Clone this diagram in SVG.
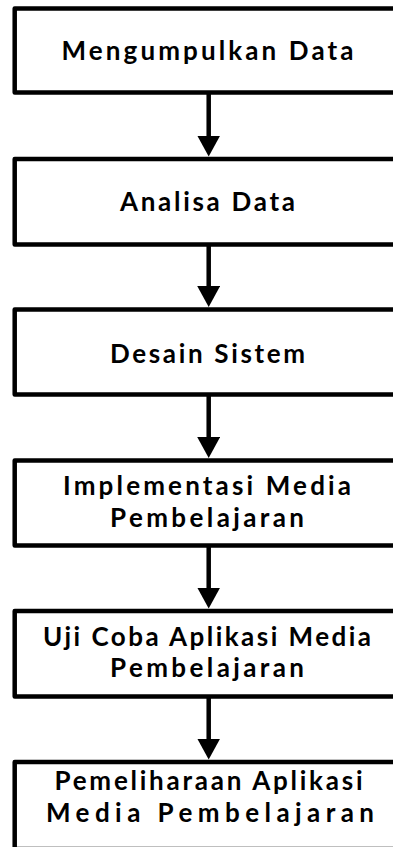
<svg xmlns="http://www.w3.org/2000/svg" width="393" height="847" viewBox="0 0 393 847">
  <style>
    .box { fill: #ffffff; stroke: #000000; stroke-width: 4.5; stroke-linejoin: round; }
    .lbl { font-family: Lato, "Open Sans", "Liberation Sans", sans-serif; font-weight: 700; font-size: 26px; fill: #000000; text-anchor: middle; }
    .conn { stroke: #000000; stroke-width: 4.5; fill: none; marker-end: url(#arrow); }
  </style>
  <defs>
    <marker id="arrow" markerUnits="userSpaceOnUse" markerWidth="21" markerHeight="23" viewBox="0 0 21 23" refX="2" refY="11.5" orient="auto">
      <path d="M0,0 L21,11.5 L0,23 Z" fill="#000000"/>
    </marker>
  </defs>
  <rect width="393" height="847" fill="#ffffff"/>
  <g id="connectors">
    <line class="conn" x1="208.7" y1="92.5" x2="208.7" y2="137.5"/>
    <line class="conn" x1="208.7" y1="244.5" x2="208.7" y2="288"/>
    <line class="conn" x1="208.7" y1="394.5" x2="208.7" y2="439"/>
    <line class="conn" x1="208.7" y1="545.5" x2="208.7" y2="589.5"/>
    <line class="conn" x1="208.7" y1="696.5" x2="208.7" y2="740.5"/>
  </g>
  <g id="node-mengumpulkan-data">
    <rect class="box" x="14.7" y="8.5" width="388" height="84"/>
    <text class="lbl" x="207.5" y="60" textLength="292" lengthAdjust="spacing">Mengumpulkan Data</text>
  </g>
  <g id="node-analisa-data">
    <rect class="box" x="14.7" y="159" width="388" height="85.5"/>
    <text class="lbl" x="207.5" y="211" textLength="175" lengthAdjust="spacing">Analisa Data</text>
  </g>
  <g id="node-desain-sistem">
    <rect class="box" x="14.7" y="309.5" width="388" height="85"/>
    <text class="lbl" x="207.5" y="362.5" textLength="195" lengthAdjust="spacing">Desain Sistem</text>
  </g>
  <g id="node-implementasi">
    <rect class="box" x="14.7" y="460.5" width="388" height="85"/>
    <text class="lbl" x="207" y="495" textLength="288" lengthAdjust="spacing">Implementasi Media</text>
    <text class="lbl" x="207" y="526.5" textLength="194" lengthAdjust="spacing">Pembelajaran</text>
  </g>
  <g id="node-uji-coba">
    <rect class="box" x="14.7" y="611" width="388" height="85.5"/>
    <text class="lbl" x="207" y="645.5" textLength="328" lengthAdjust="spacing">Uji Coba Aplikasi Media</text>
    <text class="lbl" x="207" y="677" textLength="194" lengthAdjust="spacing">Pembelajaran</text>
  </g>
  <g id="node-pemeliharaan">
    <rect class="box" x="14.7" y="762" width="388" height="87"/>
    <text class="lbl" x="208.5" y="790" textLength="308" lengthAdjust="spacing">Pemeliharaan Aplikasi</text>
    <text class="lbl" x="210" y="821.5" textLength="328" lengthAdjust="spacing">Media Pembelajaran</text>
  </g>
</svg>
